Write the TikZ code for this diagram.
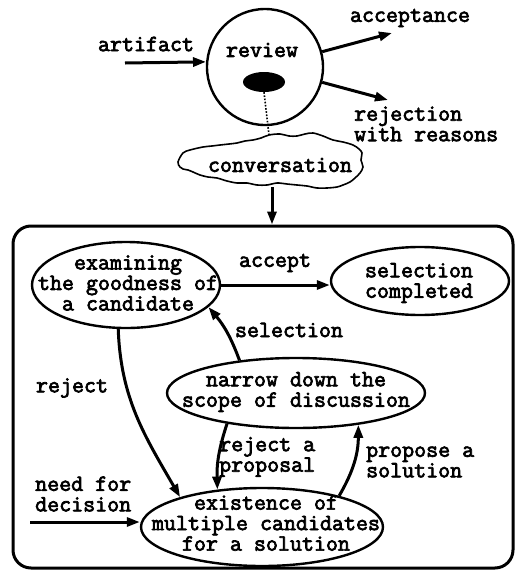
\documentclass[tikz,border=0pt]{standalone}
\usepackage{fontspec}
\newfontfamily\typefont{Latin Modern Mono}[FakeBold=3]
\usetikzlibrary{arrows.meta,shapes.geometric}

\begin{document}
\begin{tikzpicture}[x=1pt,y=-1pt,
  lbl/.style={font=\typefont\bfseries\fontsize{23.3}{20.5}\selectfont, inner sep=0pt, align=center},
  oval/.style={draw, ellipse, line width=2.4pt, inner sep=0pt},
  arr/.style={line width=3pt, -{Triangle[length=13pt,width=9pt]}},
]
\useasboundingbox (0,0) rectangle (515,571);

% ---- review stage ----
\node[draw, circle, line width=2.4pt, minimum size=116pt, inner sep=0pt] (review) at (265,67) {};
\node[lbl] (reviewtxt) at (262,50) {review};
\node[ellipse, fill=black, minimum width=42pt, minimum height=20pt, inner sep=0pt] (blob) at (264,82) {};

\node[lbl] (artifact) at (146,44) {artifact};
\coordinate (artin) at (125,63);
\draw[arr] (artin) -- (review.175);

\node[lbl] (acceptance) at (410,18) {acceptance};
\coordinate (accout) at (392,33);
\draw[arr] (review.15) -- (accout);

\node[lbl, align=left, anchor=west] (rejection) at (354,124) {rejection\\with reasons};
\coordinate (rejout) at (388,100);
\draw[arr] (review.-15) -- (rejout);

% ---- conversation cloud ----
\draw[line width=1.6pt] plot[smooth cycle, tension=0.55] coordinates {
  (178,162) (183,153) (190,150) (203,147) (212,146) (220,145) (229,144) (237,143)
  (245,141) (253,140) (261,138) (269,135) (280,134) (289,136) (297,136) (305,134)
  (313,133) (323,136) (333,140) (343,142) (353,145) (359,149) (362,153) (361,160)
  (363,167) (360,173) (355,178) (350,182) (343,185) (337,187) (327,188) (317,188)
  (307,186) (297,185) (287,184) (277,183) (267,185) (257,185) (247,183) (237,183)
  (227,181) (217,178) (208,177) (200,175) (193,172) (188,170) (183,169) (180,167)};
\node[lbl] (conv) at (280,165) {conversation};
\coordinate (cloudtop) at (269,135);
\coordinate (cloudbot) at (272,187);
\draw[line width=1.6pt, dash pattern=on 1.6pt off 1.6pt] (blob.south) -- (cloudtop);

% ---- selection process frame ----
\node[draw, line width=3pt, rounded corners=18pt, minimum width=500pt, minimum height=342pt, inner sep=0pt] (frame) at (263,397) {};
\draw[arr] (cloudbot) -- (cloudbot |- frame.north);

% states
\node[oval, minimum width=188pt, minimum height=86pt] (exam) at (126,285) {};
\node[lbl] (examtxt) at (128,283) {examining\\the goodness of\\a candidate};

\node[oval, minimum width=178pt, minimum height=68pt] (sel) at (420,281) {};
\node[lbl] (seltxt) at (419,283) {selection\\completed};

\node[oval, minimum width=258pt, minimum height=70pt] (narrow) at (296,393) {};
\node[lbl] (narrowtxt) at (296,392) {narrow down the\\scope of discussion};

\node[oval, minimum width=242pt, minimum height=78pt] (exist) at (262,527) {};
\node[lbl] (existtxt) at (266,523) {existence of\\multiple candidates\\for a solution};

% transitions
\draw[arr] (exam.east) -- (exam.east -| sel.west);
\node[lbl] (acclbl) at (275,263) {accept};

\draw[arr] (narrow.150) to[bend right=10] (exam.-15);
\node[lbl] (sellbl) at (289,330) {selection};

\draw[arr] (exam.-100) to[out=-88, in=120] (exist.160);
\node[lbl] (rejlbl) at (72,388) {reject};

\draw[arr] (narrow.204) to[bend right=10] (exist.140);
\node[lbl, align=left, anchor=west] (rejprop) at (219,457) {reject a\\proposal};

\draw[arr] (exist.22) to[bend right=15] (narrow.-27);
\node[lbl, align=left, anchor=west] (propsol) at (366,462) {propose a\\solution};

\node[lbl, align=left, anchor=west] (need) at (35,494) {need for\\decision};
\coordinate (needin) at (30,522);
\draw[arr] (needin) -- (needin -| exist.west);
\end{tikzpicture}
\end{document}
